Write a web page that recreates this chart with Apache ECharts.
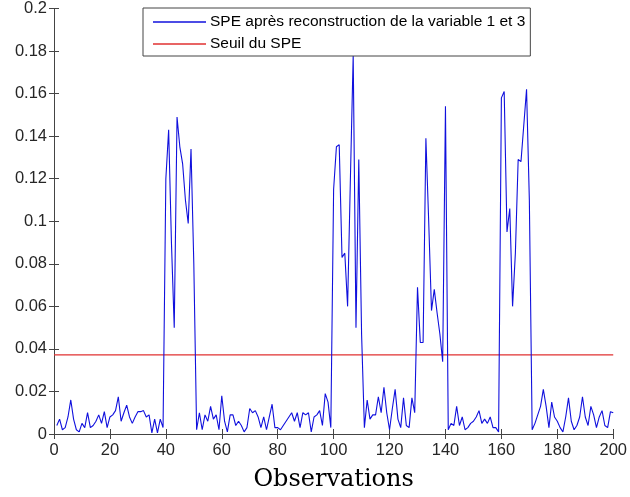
<!DOCTYPE html>
<html>
<head>
<meta charset="utf-8">
<script src="https://cdn.jsdelivr.net/npm/echarts@6/dist/echarts.min.js"></script>
<style>
html,body{margin:0;padding:0;background:#fff;}
#chart{width:630px;height:497px;}
</style>
</head>
<body>
<div id="chart"></div>
<script>
// SPE values, observations 1..200, split by segment
const speNormal1 = [0.004,0.007,0.002,0.003,0.008,0.016,0.007,0.002,0.001,0.005,0.003,0.010,0.003,0.004,0.006,0.009,0.005,0.0105,0.003,0.008,0.009,0.011,0.0175,0.006,0.010,0.0136,0.008,0.005,0.008,0.0105,0.0105,0.011,0.008,0.009,0.0005,0.007,0.0005,0.007,0.003];
const speFault1 = [0.12,0.143,0.09,0.05,0.149,0.135,0.127,0.11,0.099,0.134,0.08,0.002];
const speNormal2 = [0.010,0.002,0.009,0.006,0.013,0.007,0.009,0.002,0.018,0.006,0.001,0.009,0.009,0.004,0.006,0.004,0.001,0.003,0.012,0.010,0.011,0.008,0.003,0.008,0.002,0.008,0.014,0.003,0.003,0.002,0.004,0.006,0.008,0.010,0.006,0.010,0.003,0.010,0.009,0.010,0.001,0.008,0.009,0.011,0.004,0.019,0.015,0.003];
const speFault2 = [0.115,0.135,0.136,0.083,0.085,0.06,0.12,0.178,0.05,0.129,0.047,0.003];
const speNormal3 = [0.016,0.007,0.009,0.009,0.0175,0.010,0.022,0.010,0.002,0.012,0.021,0.007,0.003,0.017,0.004,0.003,0.017,0.010];
const speFault3 = [0.069,0.043,0.043,0.139,0.10,0.058,0.068,0.057,0.047,0.034,0.154,0.002];
const speNormal4 = [0.005,0.004,0.013,0.004,0.008,0.002,0.003,0.005,0.006,0.008,0.011,0.005,0.007,0.005,0.008,0.003,0.003,0.001];
const speFault4 = [0.158,0.161,0.095,0.106,0.06,0.085,0.129,0.128,0.145,0.162,0.11,0.002];
const speNormal5 = [0.005,0.009,0.013,0.021,0.013,0.003,0.015,0.008,0.006,0.003,0.001,0.008,0.017,0.006,0.002,0.004,0.008,0.0175,0.008,0.004,0.013,0.009,0.003,0.008,0.011,0.004,0.003,0.0105,0.010];
const threshold = 0.0372;
const thresholdX = [0, 200];
const xTicks = [0,20,40,60,80,100,120,140,160,180,200];
const yTicks = [0,0.02,0.04,0.06,0.08,0.1,0.12,0.14,0.16,0.18,0.2];
const seriesNames = ['SPE après reconstruction de la variable 1 et 3', 'Seuil du SPE'];
const xLabel = 'Observations';

const spe = [].concat(speNormal1, speFault1, speNormal2, speFault2, speNormal3, speFault3, speNormal4, speFault4, speNormal5);
const speData = spe.map((v, i) => [i + 1, v]);
const thrData = thresholdX.map(x => [x, threshold]);

const axisColor = '#444';
const textColor = '#262626';
const sans = 'Liberation Sans, Arial, sans-serif';
const chart = echarts.init(document.getElementById('chart'));
chart.setOption({
  animation: false,
  backgroundColor: '#fff',
  grid: {left: 54, right: 12, top: 8, bottom: 63, containLabel: false},
  legend: {
    orient: 'vertical',
    left: 143,
    top: 8,
    backgroundColor: '#fff',
    borderColor: axisColor,
    borderWidth: 1,
    padding: [6, 5, 4, 10],
    itemGap: 6,
    itemWidth: 53,
    itemHeight: 1.4,
    icon: 'rect',
    textStyle: {fontFamily: sans, fontSize: 15.5, color: '#000', lineHeight: 16, padding: [0,0,0,-1]},
    data: seriesNames
  },
  xAxis: [{
    type: 'value', min: 0, max: 200, interval: 20, position: 'bottom',
    axisLine: {show: true, lineStyle: {color: axisColor, width: 1}},
    axisTick: {show: true, inside: true, length: 5, lineStyle: {color: axisColor}},
    axisLabel: {color: textColor, fontFamily: sans, fontSize: 16.5, margin: 8,
      formatter: v => xTicks.includes(v) ? String(v) : ''},
    splitLine: {show: false},
    name: xLabel, nameLocation: 'middle', nameGap: 34,
    nameTextStyle: {fontFamily: 'DejaVu Serif, serif', fontSize: 24, color: '#000'}
  }, {
    type: 'value', min: 0, max: 200, interval: 20, position: 'top',
    axisLine: {show: true, lineStyle: {color: axisColor, width: 1}},
    axisTick: {show: true, inside: true, length: 5, lineStyle: {color: axisColor}},
    axisLabel: {show: false}, splitLine: {show: false}
  }],
  yAxis: [{
    type: 'value', min: 0, max: 0.2, interval: 0.02, position: 'left',
    axisLine: {show: true, lineStyle: {color: axisColor, width: 1}},
    axisTick: {show: true, inside: true, length: 5, lineStyle: {color: axisColor}},
    axisLabel: {color: textColor, fontFamily: sans, fontSize: 16.5, margin: 7,
      formatter: v => { const t = yTicks.find(y => Math.abs(y - v) < 1e-9); return t === undefined ? '' : String(+t.toFixed(2)); }},
    splitLine: {show: false}
  }, {
    type: 'value', min: 0, max: 0.2, interval: 0.02, position: 'right',
    axisLine: {show: true, lineStyle: {color: axisColor, width: 1}},
    axisTick: {show: true, inside: true, length: 5, lineStyle: {color: axisColor}},
    axisLabel: {show: false}, splitLine: {show: false}
  }],
  series: [{
    name: seriesNames[0], type: 'line', data: speData, xAxisIndex: 0, yAxisIndex: 0,
    symbol: 'none', lineStyle: {color: '#1010dd', width: 1.1}, itemStyle: {color: '#1010dd'}, z: 3
  }, {
    name: seriesNames[1], type: 'line', data: thrData, xAxisIndex: 0, yAxisIndex: 0,
    symbol: 'none', lineStyle: {color: '#e03030', width: 1.1}, itemStyle: {color: '#e03030'}, z: 2
  }]
});
</script>
</body>
</html>
